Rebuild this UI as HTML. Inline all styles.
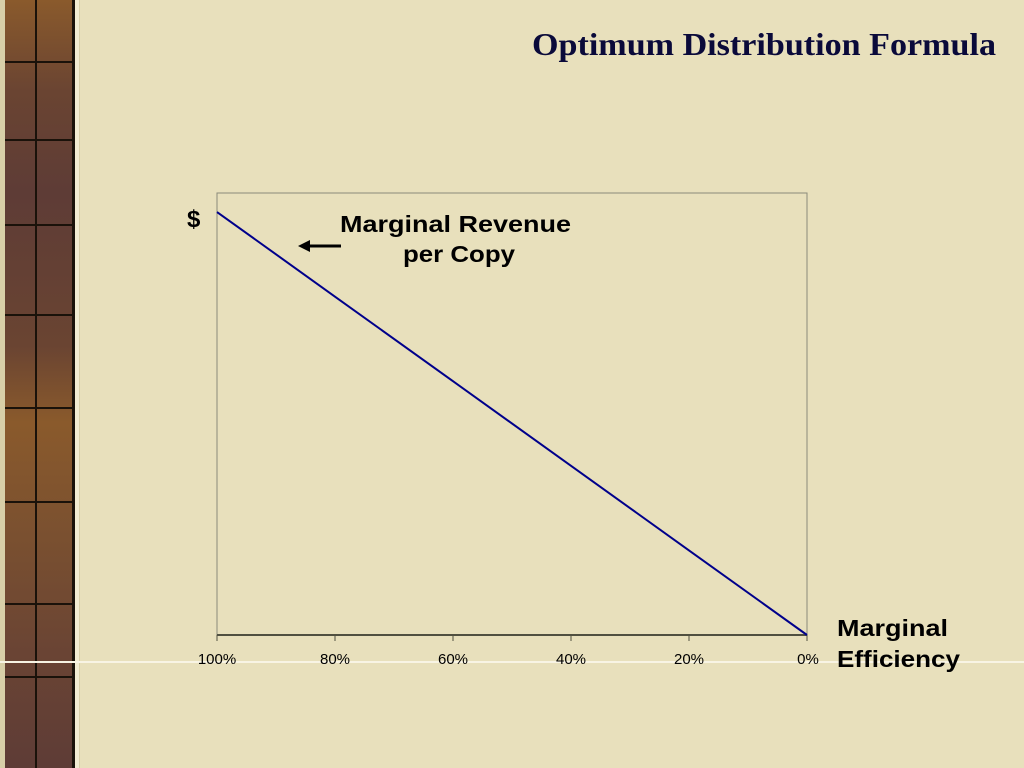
<!DOCTYPE html>
<html><head><meta charset="utf-8"><style>
body{margin:0;width:1024px;height:768px;overflow:hidden;background:#e8e0bc;position:relative;font-family:"Liberation Sans",sans-serif}
.edge{position:absolute;left:0;top:0;width:80px;height:768px;background:#d8cfa8}
.strip{position:absolute;left:5px;top:0;width:67px;height:768px;background:linear-gradient(180deg,#8a5a2c 0,#6a4432 12%,#5e3c36 25%,#6a4432 45%,#8a5a2c 55%,#7a5030 70%,#6a4434 85%,#5e3c36 100%);border-right:3px solid #1a120a}
.hl{position:absolute;left:75px;top:0;width:4px;height:768px;background:#f2ecd2}
</style></head><body>
<div class="edge"></div>
<div class="strip"></div>
<div class="hl"></div>
<svg width="1024" height="768" style="position:absolute;left:0;top:0">
<g id="grid" stroke="#1a120a" stroke-width="2"></g>
<line x1="0" y1="662" x2="1024" y2="662" stroke="#f8f4e4" stroke-width="2"/>
<text x="996" y="55" text-anchor="end" font-family="Liberation Serif" font-weight="bold" font-size="32" fill="#0a0a3a" textLength="464" lengthAdjust="spacingAndGlyphs">Optimum Distribution Formula</text>
<rect x="217" y="193" width="590" height="442" fill="none" stroke="#8a8a7a" stroke-width="1"/>
<line x1="217" y1="635" x2="807" y2="635" stroke="#505040" stroke-width="2"/>
<g id="ticks"></g>
<path id="series" fill="none" stroke="#00008b" stroke-width="2"/>
<text x="187" y="227" font-weight="bold" font-size="24" fill="#000">$</text>
<text x="340" y="232" font-weight="bold" font-size="23" fill="#000" textLength="231" lengthAdjust="spacingAndGlyphs">Marginal Revenue</text>
<text x="403" y="262" font-weight="bold" font-size="23" fill="#000" textLength="112" lengthAdjust="spacingAndGlyphs">per Copy</text>
<line x1="341" y1="246" x2="306" y2="246" stroke="#000" stroke-width="3"/>
<polygon points="298,246 310,240 310,252" fill="#000"/>
<text x="837" y="636" font-weight="bold" font-size="23" fill="#000" textLength="111" lengthAdjust="spacingAndGlyphs">Marginal</text>
<text x="837" y="667" font-weight="bold" font-size="23" fill="#000" textLength="123" lengthAdjust="spacingAndGlyphs">Efficiency</text>
</svg>
<script>
const xValues=[100,80,60,40,20,0];
const yValues=[1,0.8,0.6,0.4,0.2,0];
const tickLabels=["100%","80%","60%","40%","20%","0%"];
const X0=217,X1=807,Y0=635,Y1=193,YMAX=1.045;
const sx=v=>X0+(100-v)/100*(X1-X0);
const sy=v=>Y0-v/YMAX*(Y0-Y1);
const NS="http://www.w3.org/2000/svg";
document.getElementById('series').setAttribute('d',xValues.map((x,i)=>(i?'L':'M')+sx(x)+','+sy(yValues[i])).join(''));
const tg=document.getElementById('ticks');
xValues.forEach((x,i)=>{
 const l=document.createElementNS(NS,'line');
 l.setAttribute('x1',sx(x));l.setAttribute('x2',sx(x));l.setAttribute('y1',635);l.setAttribute('y2',641);
 l.setAttribute('stroke','#505040');
 
 
 tg.appendChild(l);
 const t=document.createElementNS(NS,'text');
 t.setAttribute('x',sx(x)+(i==5?1:0));t.setAttribute('y',664);t.setAttribute('text-anchor','middle');
 t.setAttribute('font-size','15');t.setAttribute('fill','#000');
 t.textContent=tickLabels[i];
 
 
 tg.appendChild(t);
});
const g=document.getElementById('grid');
const vl=document.createElementNS(NS,'line');
vl.setAttribute('x1',36);vl.setAttribute('x2',36);vl.setAttribute('y1',0);vl.setAttribute('y2',768);


g.appendChild(vl);
[62,140,225,315,408,502,604,677].forEach(y=>{
 const h=document.createElementNS(NS,'line');
 h.setAttribute('x1',5);h.setAttribute('x2',72);h.setAttribute('y1',y);h.setAttribute('y2',y);
 
 
 g.appendChild(h);
});
</script>
</body></html>
